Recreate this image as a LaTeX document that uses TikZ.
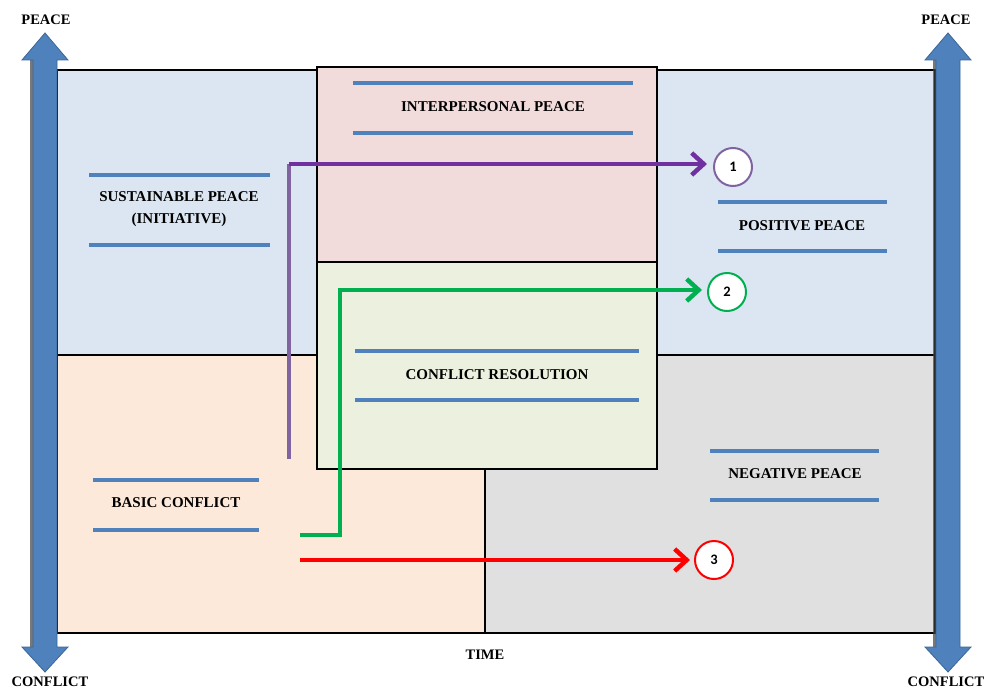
\documentclass[tikz,border=0pt]{standalone}
\usepackage{fontspec}
\setmainfont{Liberation Serif}
\newfontfamily\numfont{Carlito}
\usetikzlibrary{arrows.meta}
\definecolor{bluebar}{HTML}{4F81BD}
\definecolor{blueedge}{HTML}{3A6698}
\definecolor{qblue}{HTML}{DCE6F2}
\definecolor{qpink}{HTML}{F2DCDB}
\definecolor{qgreen}{HTML}{EBF1DE}
\definecolor{qpeach}{HTML}{FDE9D9}
\definecolor{qgray}{HTML}{E0E0E0}
\definecolor{purpD}{HTML}{7030A0}
\definecolor{purpL}{HTML}{8064A2}
\definecolor{grn}{HTML}{00B050}
\definecolor{rd}{HTML}{FF0000}
\tikzset{
  region/.style={draw=black, line width=2.2pt},
  bar/.style={draw=bluebar, line width=4.5pt},
  lbl/.style={font=\bfseries\fontsize{15}{22.5}\selectfont, align=center, inner sep=0pt},
  axislbl/.style={font=\bfseries\fontsize{14.5}{16}\selectfont, inner sep=0pt},
  flow/.style={line width=4.5pt},
  tip/.style={-{Straight Barb[length=12pt,width=22pt]}},
  numc/.style={circle, draw, line width=2pt, fill=white, minimum size=38pt, inner sep=0pt, font=\numfont\bfseries\fontsize{14.5}{15}\selectfont},
  bigarrow/.style={fill=bluebar, draw=blueedge, line width=0.8pt},
}
\begin{document}
\begin{tikzpicture}[x=1pt,y=-1pt]
\useasboundingbox (0,0) rectangle (987,690);
\fill[white] (0,0) rectangle (987,690);

% quadrants
\fill[qblue] (57,70) rectangle (317,355);
\fill[qblue] (657,70) rectangle (935,355);
\fill[qpeach] (57,355) rectangle (485,633);
\fill[qgray] (485,355) rectangle (935,633);
\draw[region] (57,70) rectangle (935,633);
\draw[region] (57,355) -- (317,355);
\draw[region] (657,355) -- (935,355);
\draw[region] (485,469) -- (485,633);

% central boxes
\draw[region, fill=qpink] (317,67) rectangle (657,262);
\draw[region, fill=qgreen] (317,262) rectangle (657,469);

% big vertical arrows (with shadow)
\fill[black!75, opacity=0.7] (30,60) rectangle (34,647);
\draw[bigarrow] (45,33) -- (68,60) -- (57,60) -- (57,647) -- (68,647) -- (45,672) -- (22,647) -- (33,647) -- (33,60) -- (22,60) -- cycle;
\fill[black!75, opacity=0.7] (933,60) rectangle (937,647);
\draw[bigarrow] (948,33) -- (971,60) -- (960,60) -- (960,647) -- (971,647) -- (948,672) -- (925,647) -- (936,647) -- (936,60) -- (925,60) -- cycle;

% axis labels
\node[axislbl] (pl) at (46,20) {PEACE};
\node[axislbl] (pr) at (946,20) {PEACE};
\node[axislbl] (cl) at (50,682) {CONFLICT};
\node[axislbl] (cr) at (946,682) {CONFLICT};
\node[axislbl] (time) at (485,655) {TIME};

% bars
\draw[bar] (353,83) -- (633,83);
\draw[bar] (353,133) -- (633,133);
\draw[bar] (89,175) -- (270,175);
\draw[bar] (89,245) -- (270,245);
\draw[bar] (718,202) -- (887,202);
\draw[bar] (718,251) -- (887,251);
\draw[bar] (355,351) -- (639,351);
\draw[bar] (355,400) -- (639,400);
\draw[bar] (710,451) -- (879,451);
\draw[bar] (710,500) -- (879,500);
\draw[bar] (93,480) -- (259,480);
\draw[bar] (93,530) -- (259,530);

% labels
\node[lbl] (ip) at (493,107) {INTERPERSONAL PEACE};
\node[lbl] (sp) at (179,209) {SUSTAINABLE PEACE\\(INITIATIVE)};
\node[lbl] (pp) at (802,226) {POSITIVE PEACE};
\node[lbl] (cres) at (497,375) {CONFLICT RESOLUTION};
\node[lbl] (np) at (795,474) {NEGATIVE PEACE};
\node[lbl] (bc) at (176,503) {BASIC CONFLICT};

% numbered circles
\node[numc, draw=purpL] (c1) at (733,167) {1};
\node[numc, draw=grn] (c2) at (727,292) {2};
\node[numc, draw=rd] (c3) at (714,560) {3};

% flows
\coordinate (p0) at (289,459);
\coordinate (p1) at (289,164);
\coordinate (g0) at (300,535);
\coordinate (g1) at (340,535);
\coordinate (g2) at (340,290);
\coordinate (r0) at (300,560);
\draw[flow, purpL] (p0) -- (p1);
\draw[flow, purpD, tip] (p1) -- ([xshift=-6pt]c1.west |- p1);
\draw[flow, grn, tip, line join=miter] (g0) -- (g1) -- (g2) -- ([xshift=-5pt]c2.west |- g2);
\draw[flow, rd, tip] (r0) -- ([xshift=-4pt]c3.west |- r0);
\end{tikzpicture}
\end{document}
